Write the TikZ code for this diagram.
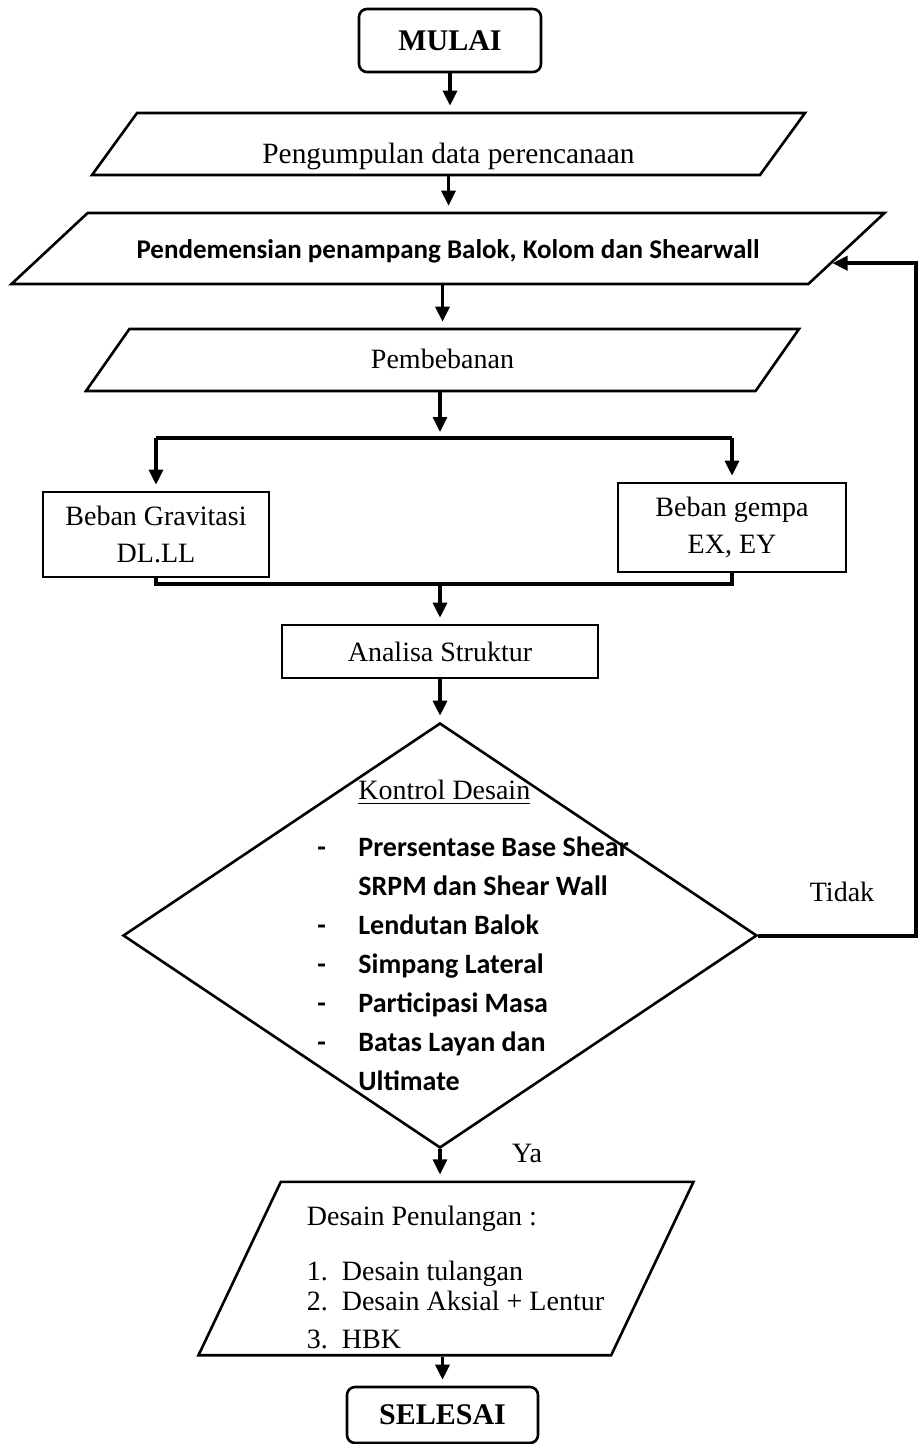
\documentclass[tikz,border=0pt]{standalone}
\usepackage{fontspec}
\setmainfont{Liberation Serif}
\newfontfamily\calibri{Carlito}
\usepackage{tikz}
\usetikzlibrary{arrows.meta, shapes.geometric, calc}

% 列表项：编号或短横线占一格
\newcommand{\butir}[2][20.5pt]{\makebox[#1][l]{#2}}

\begin{document}
\begin{tikzpicture}[x=0.5pt, y=-0.5pt,
    box/.style={draw, line width=1.3pt, align=center, font=\fontsize{14}{18.5}\selectfont},
    terminal/.style={box, rounded corners=4pt, font=\bfseries\fontsize{15}{18}\selectfont},
    para/.style={box, trapezium, trapezium stretches body, inner sep=0pt},
    arrow/.style={line width=1.6pt, -{Triangle[length=7.5pt, width=7pt]}, shorten >=3pt},
    link/.style={line width=2pt},
    note/.style={font=\fontsize{14}{17}\selectfont}]

    % 画布
    \useasboundingbox (0,0) rectangle (921,1444);
    \fill[white] (0,0) rectangle (921,1444);

    % 开始
    \node[terminal, minimum width=91pt, minimum height=31.5pt] (mulai) at (450,40.5) {MULAI};

    % 输入框（平行四边形），text height + text depth = 框高
    \node[para, trapezium left angle=54, trapezium right angle=126,
        minimum width=356.5pt, text height=25.3pt, text depth=5.7pt,
        font=\fontsize{14.7}{17}\selectfont]
        (data) at (448.5,144) {Pengumpulan data perencanaan};
    \node[para, trapezium left angle=43, trapezium right angle=137,
        minimum width=436.5pt, text height=22.75pt, text depth=12.75pt,
        font=\calibri\bfseries\fontsize{13.5}{17}\selectfont]
        (dimensi) at (448,248.5) {Pendemensian penampang Balok, Kolom dan Shearwall};
    \node[para, trapezium left angle=55, trapezium right angle=125,
        minimum width=356.5pt, text height=19.8pt, text depth=11.2pt]
        (beban) at (442.5,360) {Pembebanan};

    % 两种荷载
    \node[box, minimum width=113pt, minimum height=42.5pt] (gravitasi) at (156,534.5) {Beban Gravitasi\\DL.LL};
    \node[box, minimum width=114pt, minimum height=44.5pt] (gempa) at (732,527.5) {Beban gempa\\EX, EY};

    % 结构分析
    \node[box, minimum width=158pt, minimum height=26.5pt] (analisa) at (440,651.5) {Analisa Struktur};

    % 判断框
    \node[box, diamond, inner sep=0pt, minimum width=317pt, minimum height=212.5pt] (kontrol) at (440,935.5) {};
    \node[anchor=north west, inner sep=0pt, align=left,
        font=\calibri\bfseries\fontsize{14}{19.5}\selectfont] (syarat) at (317,780) {%
        \butir{}{\rmfamily\mdseries\underline{Kontrol Desain}}\\[9pt]
        \butir{-}Prersentase Base Shear\\
        \butir{}SRPM dan Shear Wall\\
        \butir{-}Lendutan Balok\\
        \butir{-}Simpang Lateral\\
        \butir{-}Participasi Masa\\
        \butir{-}Batas Layan dan\\
        \butir{}Ultimate};
    \node[note] (tidak) at (842,892) {Tidak};
    \node[note] (ya) at (527,1153) {Ya};

    % 配筋设计
    \node[para, trapezium left angle=64.6, trapezium right angle=115.4,
        minimum width=247.5pt, minimum height=86.5pt, inner ysep=3pt, align=left,
        font=\fontsize{14}{15}\selectfont]
        (tulangan) at (446,1268.5) {%
        \hspace*{9.5pt}\rule{0pt}{19pt}Desain Penulangan :\\[12.5pt]
        \hspace*{9.5pt}\butir[17.5pt]{1.}Desain tulangan\\
        \hspace*{9.5pt}\butir[17.5pt]{2.}Desain Aksial + Lentur\\[4pt]
        \hspace*{9.5pt}\butir[17.5pt]{3.}HBK};

    % 结束
    \node[terminal, minimum width=95.5pt, minimum height=28pt] (selesai) at (442.5,1415) {SELESAI};

    % 主流程箭头
    \draw[arrow] (mulai.south) -- (mulai.south |- data.north);
    \draw[arrow] (data.south) -- (data.south |- dimensi.north);
    \draw[arrow] (dimensi.south -| beban.north) -- (beban.north);

    % 分叉到两种荷载
    \coordinate (pisah) at (440,438);
    \draw[arrow] (beban.south -| pisah) -- (pisah);
    \draw[link] (pisah -| gravitasi) -- (pisah -| gempa);
    \foreach \n in {gravitasi, gempa}
        \draw[arrow] (pisah -| \n) -- (\n);

    % 合并
    \coordinate (gabung) at (440,584);
    \draw[link] (gravitasi.south) |- (gabung) -| (gempa.south);
    \draw[arrow] (gabung) -- (analisa);
    \draw[arrow] (analisa) -- (kontrol);

    % Ya / Tidak
    \draw[arrow] (kontrol.south) -- (kontrol.south |- tulangan.north);
    \draw[arrow] (tulangan.south -| selesai) -- (selesai);
    \coordinate (balik) at ($(dimensi.bottom right corner)!0.3!(dimensi.top right corner)$);
    \coordinate (rel) at ($(balik)+(83,0)$);
    \draw[link, -{Triangle[length=7.5pt, width=7pt]}] (kontrol.east) -| (rel) -- (balik);
\end{tikzpicture}
\end{document}
